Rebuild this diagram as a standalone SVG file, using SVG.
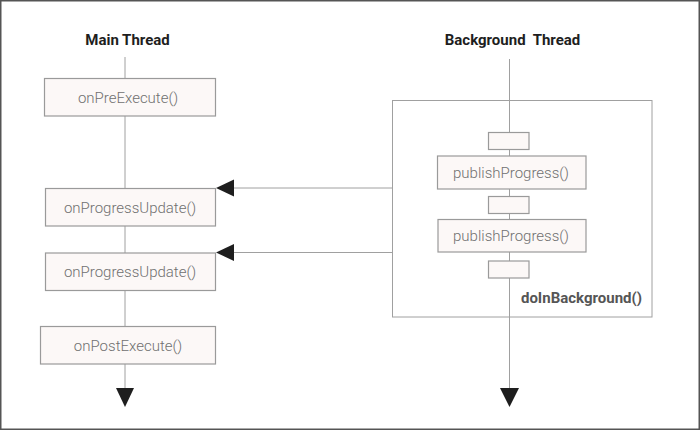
<svg xmlns="http://www.w3.org/2000/svg" width="700" height="430" viewBox="0 0 700 430">
<defs>
<style>
.box{fill:#fcf8f7;stroke:#9a9a9a;stroke-width:1.2}
.lbl{font-family:Roboto,"Liberation Sans",sans-serif;font-size:15px;font-weight:300;fill:#707070;text-anchor:middle}
.ttl{font-family:Roboto,"Liberation Sans",sans-serif;font-size:15px;font-weight:bold;fill:#1e1e1e;text-anchor:middle}
.ln{stroke:#a0a0a0;stroke-width:1;fill:none}
.head{fill:#1e1e1e}
</style>
</defs>
<rect x="0.75" y="0.75" width="698.5" height="428.5" fill="#ffffff" stroke="#555555" stroke-width="1.5"/>
<text class="ttl" x="127.5" y="45">Main Thread</text>
<text class="ttl" x="512.5" y="45" xml:space="preserve">Background  Thread</text>
<g id="connectors">
<line class="ln" x1="125" y1="57" x2="125" y2="390"/>
<line class="ln" x1="509.5" y1="59" x2="509.5" y2="390"/>
<line class="ln" x1="232" y1="188" x2="392" y2="188"/>
<line class="ln" x1="232" y1="252.5" x2="392" y2="252.5"/>
<polygon class="head" points="216,188 234,179.5 234,196.5"/>
<polygon class="head" points="216,252.5 234,244 234,261"/>
<polygon class="head" points="116,388 134,388 125,407"/>
<polygon class="head" points="500,388 519,388 509.5,407"/>
</g>
<g id="doInBackground">
<rect x="392.5" y="100.5" width="259.5" height="216.5" fill="none" stroke="#a0a0a0" stroke-width="1"/>
<text x="642" y="303" font-family="Roboto,'Liberation Sans',sans-serif" font-size="15" font-weight="bold" fill="#555555" text-anchor="end">doInBackground()</text>
</g>
<g id="onPreExecute"><rect class="box" x="44.5" y="78.5" width="171" height="37.5"/><text class="lbl" x="128" y="102.5">onPreExecute()</text></g>
<g id="onProgressUpdate1"><rect class="box" x="45.5" y="188.5" width="170" height="37.5"/><text class="lbl" x="130" y="212.5">onProgressUpdate()</text></g>
<g id="onProgressUpdate2"><rect class="box" x="45.5" y="253" width="170" height="37.5"/><text class="lbl" x="130" y="276.5">onProgressUpdate()</text></g>
<g id="onPostExecute"><rect class="box" x="40.5" y="326.5" width="175" height="37.5"/><text class="lbl" x="128" y="350.5">onPostExecute()</text></g>
<g id="step1"><rect class="box" x="488.5" y="132.5" width="40.5" height="17"/></g>
<g id="publishProgress1"><rect class="box" x="437.5" y="156" width="148.5" height="33"/><text class="lbl" x="511" y="177.5">publishProgress()</text></g>
<g id="step2"><rect class="box" x="488.5" y="196.5" width="40.5" height="17"/></g>
<g id="publishProgress2"><rect class="box" x="438" y="219.5" width="148" height="32.5"/><text class="lbl" x="511" y="240.5">publishProgress()</text></g>
<g id="step3"><rect class="box" x="488.5" y="261" width="40.5" height="17"/></g>
</svg>
